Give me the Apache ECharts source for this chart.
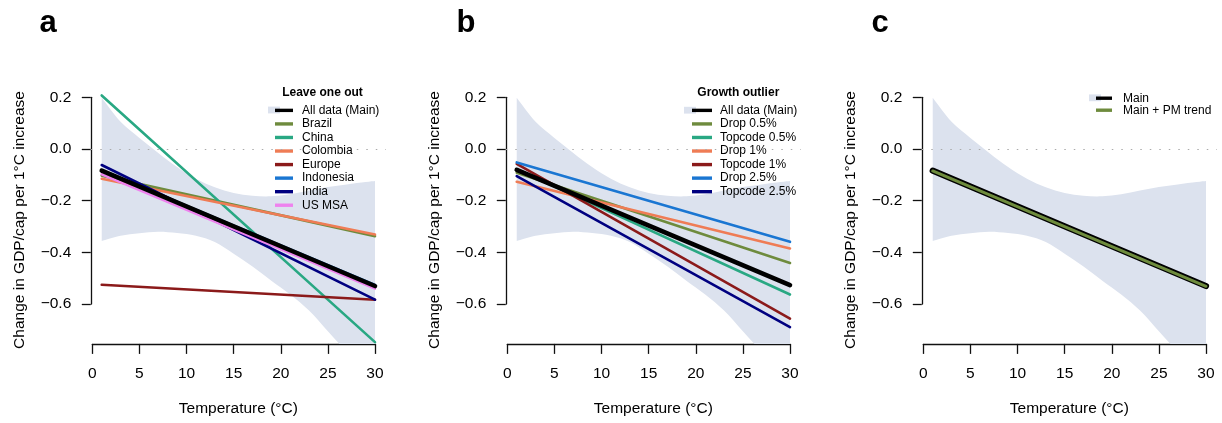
<!DOCTYPE html>
<html>
<head>
<meta charset="utf-8">
<script src="https://cdn.jsdelivr.net/npm/echarts@6/dist/echarts.min.js"></script>
<style>
  html, body { margin: 0; padding: 0; background: #ffffff; }
  #chart { width: 1222px; height: 423px; }
</style>
</head>
<body>
<div id="chart"></div>
<script>
// ---------- data ----------
// Each fitted marginal effect is linear in temperature: values at 1 °C and 30 °C
const tempEnds = [1, 30];

// Panel a: leave one out
const looMain      = [-0.084, -0.530];
const looBrazil    = [-0.103, -0.337];
const looChina     = [0.207, -0.747];
const looColombia  = [-0.115, -0.331];
const looEurope    = [-0.525, -0.583];
const looIndonesia = [-0.082, -0.526];
const looIndia     = [-0.062, -0.583];
const looUSMSA     = [-0.098, -0.540];

// Panel b: growth outlier treatment
const outMain       = [-0.081, -0.527];
const outDrop05     = [-0.092, -0.441];
const outTopcode05  = [-0.078, -0.563];
const outDrop1      = [-0.127, -0.385];
const outTopcode1   = [-0.058, -0.656];
const outDrop25     = [-0.052, -0.359];
const outTopcode25  = [-0.105, -0.689];

// Panel c: adding a PM trend
const pmMain  = [-0.084, -0.530];
const pmTrend = [-0.085, -0.531];

// Confidence band of the main estimate
const bandTemp  = [1, 3, 5, 7, 9, 11, 13, 15, 17, 19, 21, 23, 25, 27, 29, 30];
const bandUpper = [0.198, 0.105, 0.043, -0.015, -0.070, -0.115, -0.148, -0.170, -0.181, -0.183, -0.175, -0.161, -0.147, -0.137, -0.128, -0.124];
const bandLower = [-0.356, -0.336, -0.326, -0.320, -0.325, -0.336, -0.360, -0.405, -0.455, -0.510, -0.563, -0.625, -0.705, -0.785, -0.865, -0.905];

// Axis ticks
const xTicks = [0, 30, 5];        // min, max, step
const yTicks = [-0.6, 0.2, 0.2];  // min, max, step

const panelLetters = ['a', 'b', 'c'];
const legendTitles = ['Leave one out', 'Growth outlier', ''];
const yTitle = 'Change in GDP/cap per 1\u00b0C increase';
const xTitle = 'Temperature (\u00b0C)';

// ---------- styling ----------
const FONT = '"Liberation Sans", Arial, Helvetica, sans-serif';
const BAND = '#dce2ee';
const C = {
  black: '#000000', olive: '#6e8b3d', teal: '#29a883', orange: '#ef7c55',
  darkred: '#8b1a1a', blue: '#1a76d2', navy: '#000080', violet: '#ee82ee'
};
const BAND_NAME = 'Main 95% CI';

const panels = [
  {
    lines: [
      // drawn in this order; legend order is given separately
      { name: 'Brazil', v: looBrazil, color: C.olive, w: 2.6 },
      { name: 'China', v: looChina, color: C.teal, w: 2.6 },
      { name: 'Colombia', v: looColombia, color: C.orange, w: 2.6 },
      { name: 'Europe', v: looEurope, color: C.darkred, w: 2.6 },
      { name: 'Indonesia', v: looIndonesia, color: C.blue, w: 2.6 },
      { name: 'India', v: looIndia, color: C.navy, w: 2.6 },
      { name: 'US MSA', v: looUSMSA, color: C.violet, w: 2.6 },
      { name: 'All data (Main)', v: looMain, color: C.black, w: 4.6 }
    ],
    legend: ['All data (Main)', 'Brazil', 'China', 'Colombia', 'Europe', 'Indonesia', 'India', 'US MSA'],
    leg: { left: 275, top: 103.6, iconW: 18, textPad: 4, rowH: 13.55, patchLeft: 268, patchTop: 106.6 }
  },
  {
    lines: [
      { name: 'Drop 0.5%', v: outDrop05, color: C.olive, w: 2.6 },
      { name: 'Topcode 0.5%', v: outTopcode05, color: C.teal, w: 2.6 },
      { name: 'Drop 1%', v: outDrop1, color: C.orange, w: 2.6 },
      { name: 'Topcode 1%', v: outTopcode1, color: C.darkred, w: 2.6 },
      { name: 'Drop 2.5%', v: outDrop25, color: C.blue, w: 2.6 },
      { name: 'Topcode 2.5%', v: outTopcode25, color: C.navy, w: 2.6 },
      { name: 'All data (Main)', v: outMain, color: C.black, w: 4.6 }
    ],
    legend: ['All data (Main)', 'Drop 0.5%', 'Topcode 0.5%', 'Drop 1%', 'Topcode 1%', 'Drop 2.5%', 'Topcode 2.5%'],
    leg: { left: 692, top: 103.6, iconW: 20, textPad: 3, rowH: 13.55, patchLeft: 684, patchTop: 106.8 }
  },
  {
    lines: [
      { name: 'Main', v: pmMain, color: C.black, w: 6.2 },
      { name: 'Main + PM trend', v: pmTrend, color: C.olive, w: 3 }
    ],
    legend: ['Main', 'Main + PM trend'],
    leg: { left: 1096, top: 92.2, iconW: 16, textPad: 6, rowH: 11.2, patchLeft: 1089, patchTop: 94.4 }
  }
];

// ---------- layout ----------
const PANEL_DX = [0, 415, 831];
const X0 = 92.3;          // pixel of 0 °C in the first panel
const PX_DEG = 9.423;     // pixels per °C
const Y0 = 149;           // pixel of 0.0
const PX_UNIT = 258.5;    // pixels per unit of y
const PLOT_X = [-0.16, 31.16];
const PLOT_Y = [-0.754, 0.25];

const grids = [], xAxes = [], yAxes = [], series = [], legends = [], graphics = [];

const fmtY = v => (v < 0 ? '\u2212' : '') + Math.abs(v).toFixed(1);

// Smooth path through pixel points (Catmull-Rom as cubic Bezier segments)
function smoothSegments(pts) {
  let d = '';
  for (let i = 0; i < pts.length - 1; i++) {
    const p0 = pts[i - 1] || pts[i], p1 = pts[i], p2 = pts[i + 1], p3 = pts[i + 2] || p2;
    const c1 = [p1[0] + (p2[0] - p0[0]) / 6, p1[1] + (p2[1] - p0[1]) / 6];
    const c2 = [p2[0] - (p3[0] - p1[0]) / 6, p2[1] - (p3[1] - p1[1]) / 6];
    d += ' C' + c1[0] + ',' + c1[1] + ' ' + c2[0] + ',' + c2[1] + ' ' + p2[0] + ',' + p2[1];
  }
  return d;
}

function renderBand(params, api) {
  if (params.dataIndex !== 0) return null;
  const up = bandTemp.map((t, k) => api.coord([t, bandUpper[k]]));
  const lo = bandTemp.map((t, k) => api.coord([t, bandLower[k]])).reverse();
  const d = 'M' + up[0][0] + ',' + up[0][1] + smoothSegments(up) +
            ' L' + lo[0][0] + ',' + lo[0][1] + smoothSegments(lo) + ' Z';
  return { type: 'path', shape: { pathData: d }, style: { fill: BAND } };
}

panels.forEach((p, i) => {
  const dx = PANEL_DX[i];
  const xZero = X0 + dx;
  const g = grids.length;

  // plotting region
  grids.push({
    left: xZero + PLOT_X[0] * PX_DEG,
    top: Y0 - PLOT_Y[1] * PX_UNIT,
    width: (PLOT_X[1] - PLOT_X[0]) * PX_DEG,
    height: (PLOT_Y[1] - PLOT_Y[0]) * PX_UNIT,
    outerBoundsMode: 'none'
  });
  xAxes.push({
    gridIndex: g, type: 'value', min: PLOT_X[0], max: PLOT_X[1],
    axisLine: { show: false }, axisTick: { show: false }, axisLabel: { show: false }, splitLine: { show: false },
    name: xTitle, nameLocation: 'middle', nameGap: 57,
    nameTextStyle: { fontFamily: FONT, fontSize: 15.5, color: '#000' }
  });
  yAxes.push({
    gridIndex: g, type: 'value', min: PLOT_Y[0], max: PLOT_Y[1], show: false
  });

  // y axis spanning only the tick range
  grids.push({
    left: xZero + PLOT_X[0] * PX_DEG,
    top: Y0 - yTicks[1] * PX_UNIT,
    width: 2,
    height: (yTicks[1] - yTicks[0]) * PX_UNIT,
    outerBoundsMode: 'none'
  });
  xAxes.push({ gridIndex: g + 1, type: 'value', min: 0, max: 1, show: false });
  yAxes.push({
    gridIndex: g + 1, type: 'value', min: yTicks[0], max: yTicks[1], interval: yTicks[2],
    axisLine: { show: true, lineStyle: { color: '#111', width: 1.3 } },
    axisTick: { show: true, length: 9, lineStyle: { color: '#111', width: 1.3 } },
    axisLabel: { margin: 19.5, formatter: fmtY, fontFamily: FONT, fontSize: 15.5, color: '#000' },
    splitLine: { show: false }
  });

  // x axis spanning only the tick range
  const axisY = Y0 - PLOT_Y[0] * PX_UNIT;
  grids.push({
    left: xZero,
    top: axisY - 40,
    width: (xTicks[1] - xTicks[0]) * PX_DEG,
    height: 40,
    outerBoundsMode: 'none'
  });
  xAxes.push({
    gridIndex: g + 2, type: 'value', min: xTicks[0], max: xTicks[1], interval: xTicks[2], position: 'bottom',
    axisLine: { show: true, lineStyle: { color: '#111', width: 1.3 } },
    axisTick: { show: true, length: 10, lineStyle: { color: '#111', width: 1.3 } },
    axisLabel: { margin: 22, fontFamily: FONT, fontSize: 15.5, color: '#000' },
    splitLine: { show: false }
  });
  yAxes.push({ gridIndex: g + 2, type: 'value', min: 0, max: 1, show: false });

  // confidence band
  series.push({
    type: 'custom', name: BAND_NAME, xAxisIndex: g, yAxisIndex: g,
    data: bandTemp.map((t, k) => [t, bandLower[k], bandUpper[k]]),
    encode: { x: 0, y: [1, 2] },
    renderItem: renderBand, clip: true, silent: true, color: BAND, z: 1
  });

  // fitted lines
  p.lines.forEach((ln, k) => {
    const s = {
      type: 'line', name: ln.name, xAxisIndex: g, yAxisIndex: g,
      data: tempEnds.map((t, j) => [t, ln.v[j]]),
      showSymbol: false, silent: true, color: ln.color,
      lineStyle: { color: ln.color, width: ln.w, cap: 'round' }, z: 3 + k
    };
    if (k === 0) {
      s.markLine = {
        silent: true, symbol: 'none', label: { show: false },
        lineStyle: { color: '#aaaaaa', width: 1, type: [1.5, 8] },
        data: [{ yAxis: 0 }]
      };
      s.z = 2;
    }
    series.push(s);
  });

  // legend: band patch then line keys
  const colorOf = {};
  p.lines.forEach(ln => { colorOf[ln.name] = ln.color; });
  legends.push({
    orient: 'vertical', left: p.leg.patchLeft, top: p.leg.patchTop, padding: 0,
    itemWidth: 12, itemHeight: 6.8, itemGap: 0, icon: 'rect', selectedMode: false,
    formatter: () => '', textStyle: { fontSize: 1, lineHeight: 6.8 },
    itemStyle: { borderWidth: 0 },
    data: [{ name: BAND_NAME, itemStyle: { color: BAND, borderWidth: 0 } }], z: 4
  });
  legends.push({
    orient: 'vertical', left: p.leg.left, top: p.leg.top, padding: 0,
    itemWidth: p.leg.iconW, itemHeight: 3.4, itemGap: 0, icon: 'rect', selectedMode: false,
    itemStyle: { borderWidth: 0 },
    textStyle: { fontFamily: FONT, fontSize: 12, color: '#000', lineHeight: p.leg.rowH, padding: [0, 0, 0, p.leg.textPad] },
    data: p.legend.map(n => ({ name: n, itemStyle: { color: colorOf[n], borderWidth: 0 } })), z: 5
  });

  // panel letter, legend title, y title
  graphics.push({
    type: 'text', x: 48 + (i === 0 ? 0 : i === 1 ? 418 : 832), y: 23.5,
    style: { text: panelLetters[i], font: 'bold 31px ' + FONT, fill: '#000', align: 'center', verticalAlign: 'middle' }
  });
  if (legendTitles[i]) {
    graphics.push({
      type: 'text', x: (i === 0 ? 322.5 : 738.3), y: 92.3,
      style: { text: legendTitles[i], font: 'bold 12px ' + FONT, fill: '#000', align: 'center', verticalAlign: 'middle' }
    });
  }
  graphics.push({
    type: 'text', x: 19.5 + dx, y: 220, rotation: Math.PI / 2,
    style: { text: yTitle, font: '15.5px ' + FONT, fill: '#000', align: 'center', verticalAlign: 'middle' }
  });
});

const chart = echarts.init(document.getElementById('chart'), null, { renderer: 'canvas' });
chart.setOption({
  backgroundColor: '#ffffff',
  animation: false,
  grid: grids,
  xAxis: xAxes,
  yAxis: yAxes,
  legend: legends,
  series: series,
  graphic: graphics
});
</script>
</body>
</html>
